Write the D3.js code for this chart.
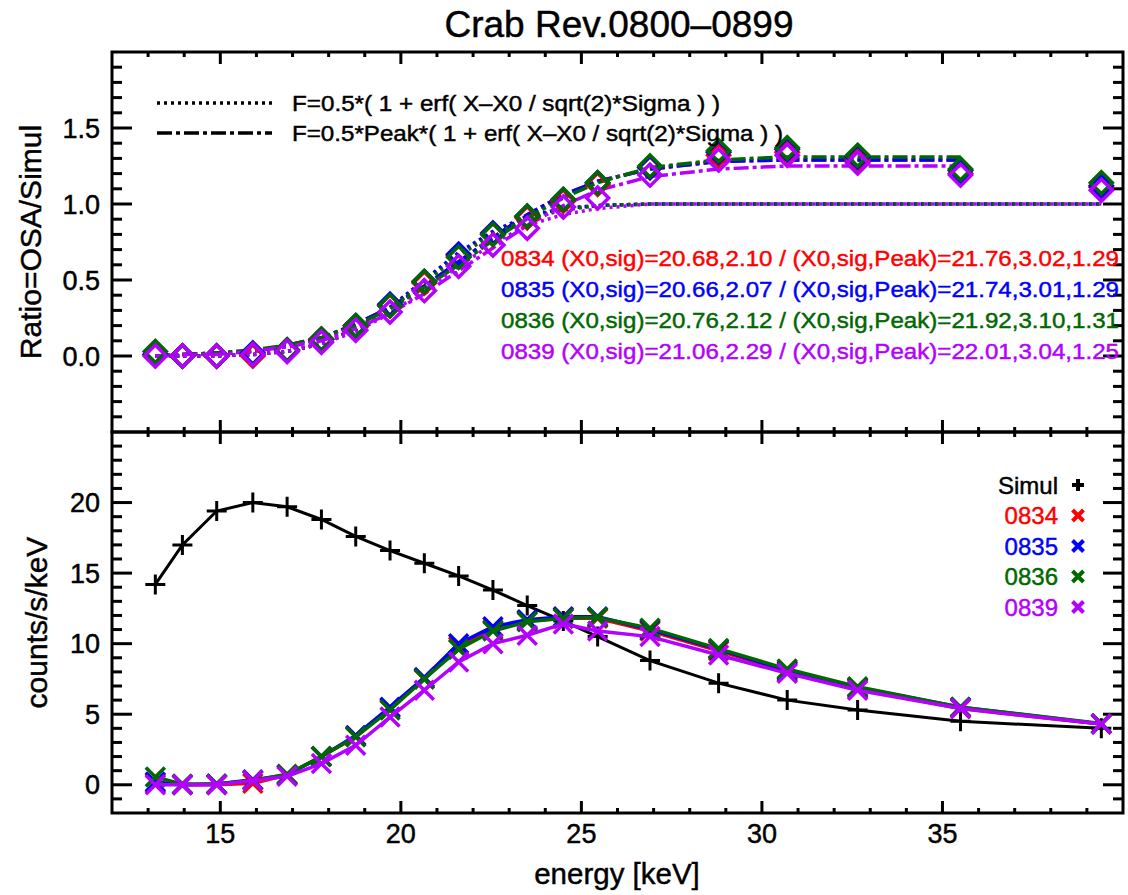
<!DOCTYPE html>
<html>
<head>
<meta charset="utf-8">
<script src="https://cdn.jsdelivr.net/npm/d3@7"></script>
<style>
body { margin: 0; background: #fff; }
svg text { font-family: "Liberation Sans", Arial, Helvetica, sans-serif; fill: #000; stroke-width: 0.45px; }
</style>
</head>
<body>
<div id="vis"></div>
<script>
// Frame constants
const FRAME_WIDTH = 1128;
const FRAME_HEIGHT = 895;
const PLOT = {left: 112, right: 1123, top: 52, mid: 432, bottom: 813};

// energy grid (keV)
const ENERGY = [13.2, 13.95, 14.9, 15.9, 16.85, 17.8, 18.75, 19.7, 20.65, 21.6,
                22.55, 23.5, 24.5, 25.45, 26.9, 28.8, 30.7, 32.65, 35.5, 39.4];

// simulated spectrum (counts/s/keV)
const SIMUL = [14.2, 17.0, 19.4, 20.0, 19.7, 18.8, 17.6, 16.6, 15.7, 14.8,
               13.8, 12.7, 11.6, 10.5, 8.8, 7.2, 6.0, 5.3, 4.5, 4.0];

// observed spectra (counts/s/keV)
const COUNTS_0834 = [0.1, 0.0, 0.0, 0.1, 0.7, 2.0, 3.4, 5.4, 7.5, 9.8,
                     11.0, 11.6, 11.8, 11.8, 10.9, 9.5, 8.0, 6.8, 5.4, 4.3];
const COUNTS_0835 = [0.2, 0.0, 0.05, 0.35, 0.7, 2.0, 3.5, 5.5, 7.6, 10.0,
                     11.2, 11.7, 11.9, 11.9, 11.0, 9.6, 8.1, 6.9, 5.5, 4.3];
const COUNTS_0836 = [0.55, 0.05, 0.05, 0.3, 0.75, 2.0, 3.4, 5.3, 7.5, 9.6,
                     10.9, 11.55, 11.8, 11.85, 11.1, 9.65, 8.2, 6.95, 5.5, 4.35];
const COUNTS_0839 = [0.0, 0.0, 0.0, 0.3, 0.6, 1.5, 2.8, 4.8, 6.7, 8.7,
                     10.0, 10.6, 11.4, 10.9, 10.5, 9.2, 7.9, 6.7, 5.4, 4.3];

// ratio OSA/Simul
const RATIO_0834 = [0.01, 0.0, 0.0, 0.0, 0.04, 0.11, 0.19, 0.33, 0.48, 0.66,
                    0.80, 0.91, 1.02, 1.13, 1.24, 1.32, 1.34, 1.29, 1.20, 1.11];
const RATIO_0835 = [0.01, 0.0, 0.0, 0.02, 0.04, 0.11, 0.20, 0.34, 0.49, 0.67,
                    0.81, 0.92, 1.03, 1.14, 1.24, 1.34, 1.36, 1.31, 1.22, 1.12];
const RATIO_0836 = [0.03, 0.0, 0.0, 0.01, 0.04, 0.11, 0.20, 0.33, 0.49, 0.65,
                    0.80, 0.92, 1.03, 1.14, 1.25, 1.35, 1.37, 1.32, 1.23, 1.14];
const RATIO_0839 = [0.0, 0.0, 0.0, 0.01, 0.03, 0.09, 0.17, 0.29, 0.43, 0.59,
                    0.73, 0.84, 0.98, 1.04, 1.19, 1.29, 1.32, 1.27, 1.19, 1.09];

// erf fit curves, read at the energy grid (dotted: all 20 points)
const FIT_0834 = [0, 0, 0, 0.01, 0.03, 0.08, 0.18, 0.32, 0.49, 0.67,
                  0.81, 0.91, 0.97, 0.99, 1, 1, 1, 1, 1, 1];
const FIT_0835 = [0, 0, 0, 0.01, 0.03, 0.08, 0.17, 0.32, 0.50, 0.68,
                  0.82, 0.92, 0.97, 0.99, 1, 1, 1, 1, 1, 1];
const FIT_0836 = [0, 0, 0, 0.01, 0.03, 0.08, 0.17, 0.31, 0.48, 0.66,
                  0.80, 0.90, 0.96, 0.99, 1, 1, 1, 1, 1, 1];
const FIT_0839 = [0, 0, 0, 0.01, 0.03, 0.08, 0.16, 0.28, 0.43, 0.59,
                  0.74, 0.86, 0.93, 0.97, 1, 1, 1, 1, 1, 1];
// peak erf fit curves (dash-dot: first 19 points, up to 35.5 keV)
const PEAK_0834 = [0, 0.01, 0.02, 0.03, 0.07, 0.12, 0.21, 0.32, 0.46, 0.62,
                   0.78, 0.93, 1.06, 1.15, 1.23, 1.28, 1.29, 1.29, 1.29];
const PEAK_0835 = [0, 0.01, 0.02, 0.03, 0.07, 0.12, 0.21, 0.32, 0.46, 0.62,
                   0.78, 0.93, 1.06, 1.15, 1.23, 1.28, 1.29, 1.29, 1.29];
const PEAK_0836 = [0, 0.01, 0.02, 0.04, 0.07, 0.12, 0.20, 0.31, 0.45, 0.60,
                   0.76, 0.91, 1.04, 1.14, 1.24, 1.29, 1.31, 1.31, 1.31];
const PEAK_0839 = [0, 0.01, 0.01, 0.03, 0.06, 0.10, 0.18, 0.28, 0.41, 0.56,
                   0.71, 0.86, 0.99, 1.09, 1.18, 1.23, 1.25, 1.25, 1.25];

const REVS = ["0834", "0835", "0836", "0839"];
const COLORS = ["#ff0000", "#0000ff", "#006800", "#b400ff"];
const FIT_LABELS = [
  "0834 (X0,sig)=20.68,2.10 / (X0,sig,Peak)=21.76,3.02,1.29",
  "0835 (X0,sig)=20.66,2.07 / (X0,sig,Peak)=21.74,3.01,1.29",
  "0836 (X0,sig)=20.76,2.12 / (X0,sig,Peak)=21.92,3.10,1.31",
  "0839 (X0,sig)=21.06,2.29 / (X0,sig,Peak)=22.01,3.04,1.25"
];
const LEGEND_LABELS = ["F=0.5*( 1 + erf( X\u2013X0 / sqrt(2)*Sigma ) )",
                       "F=0.5*Peak*( 1 + erf( X\u2013X0 / sqrt(2)*Sigma ) )"];
const X_TICKS = [15, 20, 25, 30, 35];
const RATIO_TICKS = [0, 0.5, 1.0, 1.5];
const COUNT_TICKS = [0, 5, 10, 15, 20];

const COUNTS = [COUNTS_0834, COUNTS_0835, COUNTS_0836, COUNTS_0839];
const RATIOS = [RATIO_0834, RATIO_0835, RATIO_0836, RATIO_0839];
const FITS = [FIT_0834, FIT_0835, FIT_0836, FIT_0839];
const PEAKS = [PEAK_0834, PEAK_0835, PEAK_0836, PEAK_0839];

// scales
const X_SCALE = d3.scaleLinear().domain([12, 40]).range([PLOT.left, PLOT.right]);
const Y_TOP = d3.scaleLinear().domain([-0.5, 2.0]).range([PLOT.mid, PLOT.top]);
const Y_BOT = d3.scaleLinear().domain([-2, 25]).range([PLOT.bottom, PLOT.mid]);

const svg = d3.select("#vis").append("svg")
    .attr("width", FRAME_WIDTH)
    .attr("height", FRAME_HEIGHT);

// title
svg.append("text")
    .attr("x", 619).attr("y", 37)
    .attr("text-anchor", "middle")
    .attr("font-size", 37)
    .text("Crab Rev.0800\u20130899");

// ---- ticks and frame for one panel
function drawPanel(yScale, yTop, yBottom, majors, minorStep, labels, fmt) {
    const g = svg.append("g");
    // x ticks
    const xMinor = d3.range(13, 40, 1).filter(v => X_TICKS.indexOf(v) < 0);
    X_TICKS.forEach(v => {
        const x = X_SCALE(v);
        g.append("line").attr("x1", x).attr("x2", x).attr("y1", yTop).attr("y2", yTop + 12);
        g.append("line").attr("x1", x).attr("x2", x).attr("y1", yBottom).attr("y2", yBottom - 12);
    });
    xMinor.forEach(v => {
        const x = X_SCALE(v);
        g.append("line").attr("x1", x).attr("x2", x).attr("y1", yTop).attr("y2", yTop + 5);
        g.append("line").attr("x1", x).attr("x2", x).attr("y1", yBottom).attr("y2", yBottom - 5);
    });
    // y ticks
    const [d0, d1] = yScale.domain();
    const n = Math.round((d1 - d0) / minorStep);
    d3.range(1, n).forEach(i => {
        const v = d0 + i * minorStep;
        const y = yScale(v);
        const isMajor = majors.some(m => Math.abs(m - v) < 1e-6);
        const len = isMajor ? 20 : 10;
        g.append("line").attr("x1", PLOT.left).attr("x2", PLOT.left + len).attr("y1", y).attr("y2", y);
        g.append("line").attr("x1", PLOT.right).attr("x2", PLOT.right - len).attr("y1", y).attr("y2", y);
    });
    g.selectAll("line").attr("stroke", "#000").attr("stroke-width", 3);
    // y labels
    g.selectAll("text.ylab")
        .data(labels)
        .enter()
        .append("text")
        .attr("x", 100)
        .attr("y", d => yScale(d))
        .attr("dy", "0.36em")
        .attr("text-anchor", "end")
        .attr("font-size", 27)
        .text(d => fmt(d));
    // frame
    g.append("rect")
        .attr("x", PLOT.left).attr("y", yTop)
        .attr("width", PLOT.right - PLOT.left)
        .attr("height", yBottom - yTop)
        .attr("fill", "none")
        .attr("stroke", "#000")
        .attr("stroke-width", 3);
}

drawPanel(Y_TOP, PLOT.top, PLOT.mid, [0, 0.5, 1.0, 1.5], 0.1, RATIO_TICKS, d => d.toFixed(1));
drawPanel(Y_BOT, PLOT.mid, PLOT.bottom, COUNT_TICKS, 1, COUNT_TICKS, d => d3.format("d")(d));

// x labels
svg.selectAll("text.xlab")
    .data(X_TICKS)
    .enter()
    .append("text")
    .attr("x", d => X_SCALE(d))
    .attr("y", 843)
    .attr("text-anchor", "middle")
    .attr("font-size", 27)
    .text(d => d);

svg.append("text")
    .attr("x", 617).attr("y", 884)
    .attr("text-anchor", "middle")
    .attr("font-size", 29.5)
    .text("energy [keV]");

svg.append("text")
    .attr("transform", "translate(41," + ((PLOT.top + PLOT.mid) / 2) + ") rotate(-90)")
    .attr("text-anchor", "middle")
    .attr("font-size", 30)
    .text("Ratio=OSA/Simul");

svg.append("text")
    .attr("transform", "translate(47," + ((PLOT.mid + PLOT.bottom) / 2) + ") rotate(-90)")
    .attr("text-anchor", "middle")
    .attr("font-size", 30)
    .text("counts/s/keV");

// markers
const diamond = r => "M0," + (-r) + "L" + r + ",0L0," + r + "L" + (-r) + ",0Z";
const cross = r => "M" + (-r) + "," + (-r) + "L" + r + "," + r + "M" + (-r) + "," + r + "L" + r + "," + (-r);
const plus = r => "M" + (-r) + ",0L" + r + ",0M0," + (-r) + "L0," + r;

const DOT_DASH = "3,4";
const DASH_DOT = "15,4,4,4";

// ---- top panel: fits and ratios
const lineTop = d3.line().x(d => X_SCALE(d[0])).y(d => Y_TOP(d[1]));
REVS.forEach((rev, i) => {
    const fitPts = ENERGY.map((e, k) => [e, FITS[i][k]]);
    const peakPts = PEAKS[i].map((v, k) => [ENERGY[k], v]);
    svg.append("path").datum(fitPts)
        .attr("d", lineTop).attr("fill", "none")
        .attr("stroke", COLORS[i]).attr("stroke-width", 3.5)
        .attr("stroke-dasharray", DOT_DASH);
    svg.append("path").datum(peakPts)
        .attr("d", lineTop).attr("fill", "none")
        .attr("stroke", COLORS[i]).attr("stroke-width", 3.5)
        .attr("stroke-dasharray", DASH_DOT);
});
REVS.forEach((rev, i) => {
    svg.append("g").selectAll("path")
        .data(ENERGY.map((e, k) => [e, RATIOS[i][k]]))
        .enter()
        .append("path")
        .attr("d", diamond(11))
        .attr("transform", d => "translate(" + X_SCALE(d[0]) + "," + Y_TOP(d[1]) + ")")
        .attr("fill", "none")
        .attr("stroke", COLORS[i])
        .attr("stroke-width", 3.5);
});

// formula legend
const LEGEND_WIDTHS = [428, 491];
[DOT_DASH, DASH_DOT].forEach((dash, i) => {
    const y = 103 + i * 30;
    svg.append("line")
        .attr("x1", 157).attr("x2", 272).attr("y1", y).attr("y2", y)
        .attr("stroke", "#000").attr("stroke-width", 3.5)
        .attr("stroke-dasharray", dash);
    svg.append("text")
        .attr("x", 292).attr("y", y).attr("dy", "0.36em")
        .attr("font-size", 22)
        .attr("textLength", LEGEND_WIDTHS[i])
        .attr("lengthAdjust", "spacingAndGlyphs")
        .text(LEGEND_LABELS[i]);
});

// fit parameter text
FIT_LABELS.forEach((t, i) => {
    svg.append("text")
        .attr("x", 1119).attr("y", 258 + i * 31).attr("dy", "0.36em")
        .attr("text-anchor", "end")
        .attr("font-size", 22)
        .attr("textLength", 618)
        .attr("lengthAdjust", "spacingAndGlyphs")
        .style("fill", COLORS[i])
        .text(t);
});

// ---- bottom panel: spectra
const lineBot = d3.line().x(d => X_SCALE(d[0])).y(d => Y_BOT(d[1]));
const simulPts = ENERGY.map((e, k) => [e, SIMUL[k]]);
svg.append("path").datum(simulPts)
    .attr("d", lineBot).attr("fill", "none")
    .attr("stroke", "#000").attr("stroke-width", 3);
svg.append("g").selectAll("path")
    .data(simulPts)
    .enter()
    .append("path")
    .attr("d", plus(10))
    .attr("transform", d => "translate(" + X_SCALE(d[0]) + "," + Y_BOT(d[1]) + ")")
    .attr("stroke", "#000").attr("stroke-width", 3);

REVS.forEach((rev, i) => {
    const pts = ENERGY.map((e, k) => [e, COUNTS[i][k]]);
    svg.append("path").datum(pts)
        .attr("d", lineBot).attr("fill", "none")
        .attr("stroke", COLORS[i]).attr("stroke-width", 3.5);
    svg.append("g").selectAll("path")
        .data(pts)
        .enter()
        .append("path")
        .attr("d", cross(9.5))
        .attr("transform", d => "translate(" + X_SCALE(d[0]) + "," + Y_BOT(d[1]) + ")")
        .attr("stroke", COLORS[i]).attr("stroke-width", 3.5);
});

// bottom legend
const legendNames = ["Simul"].concat(REVS);
const legendColors = ["#000"].concat(COLORS);
legendNames.forEach((name, i) => {
    const y = 485 + i * 30.5;
    svg.append("text")
        .attr("x", 1058).attr("y", y).attr("dy", "0.36em")
        .attr("text-anchor", "end")
        .attr("font-size", 24)
        .style("fill", legendColors[i])
        .text(name);
    svg.append("path")
        .attr("d", i === 0 ? plus(6) : cross(5.5))
        .attr("transform", "translate(1078," + y + ")")
        .attr("stroke", legendColors[i]).attr("stroke-width", 4);
});

// slightly heavier glyphs, like the reference rendering
svg.selectAll("text").style("stroke", function() { return this.style.fill || "#000"; });
</script>
</body>
</html>
